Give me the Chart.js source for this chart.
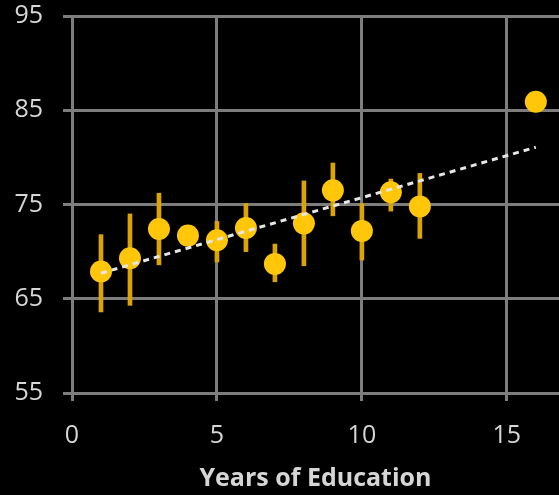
<!DOCTYPE html>
<html>
<head>
<meta charset="utf-8">
<script src="https://cdn.jsdelivr.net/npm/chart.js@4/dist/chart.umd.min.js"></script>
<style>
  html, body { margin: 0; padding: 0; background: #000; }
  canvas { display: block; }
</style>
</head>
<body>
<canvas id="chart" width="559" height="495"></canvas>
<script>
// Years of education (x) and mean score (y) with error ranges
const years  = [1, 2, 3, 4, 5, 6, 7, 8, 9, 10, 11, 12, 16];
const scores = [67.9, 69.3, 72.4, 71.7, 71.2, 72.5, 68.7, 73.0, 76.5, 72.2, 76.3, 74.8, 85.9];
const errLow  = [63.6, 64.3, 68.6, 70.8, 68.9, 70.0, 66.8, 68.5, 73.8, 69.1, 74.3, 71.4, null];
const errHigh = [71.8, 74.0, 76.2, 72.6, 73.2, 75.1, 70.8, 77.5, 79.4, 75.1, 77.7, 78.3, null];
const xTicks = [0, 5, 10, 15];
const yTicks = [55, 65, 75, 85, 95];

// least-squares trend line through the points
function linearFit(xs, ys) {
  const n = xs.length;
  const mx = xs.reduce((a, b) => a + b, 0) / n;
  const my = ys.reduce((a, b) => a + b, 0) / n;
  let sxy = 0, sxx = 0;
  for (let i = 0; i < n; i++) {
    sxy += (xs[i] - mx) * (ys[i] - my);
    sxx += (xs[i] - mx) * (xs[i] - mx);
  }
  const slope = sxy / sxx;
  return { slope, intercept: my - slope * mx };
}
const fit = linearFit(years, scores);
const xFirst = Math.min(...years), xLast = Math.max(...years);
const trendData = [xFirst, xLast].map(x => ({ x, y: fit.intercept + fit.slope * x }));

const pointData = years.map((x, i) => ({ x, y: scores[i] }));
const errorData = years
  .map((x, i) => ({ x, y: [errLow[i], errHigh[i]] }))
  .filter(d => d.y[0] !== null);

const gridColor = '#7d7d7d';
const textColor = '#d6d6d6';
const fontFamily = '"Open Sans", "DejaVu Sans", sans-serif';

new Chart(document.getElementById('chart'), {
  type: 'scatter',
  data: {
    datasets: [
      {
        type: 'line',
        data: trendData,
        borderColor: '#e6e6e6',
        borderWidth: 3,
        borderDash: [6, 5],
        pointRadius: 0,
        fill: false,
        order: 0
      },
      {
        type: 'scatter',
        data: pointData,
        backgroundColor: '#ffc60a',
        borderWidth: 0,
        pointRadius: 11,
        pointHoverRadius: 11,
        order: 1
      },
      {
        type: 'bar',
        data: errorData,
        backgroundColor: '#dba400',
        borderWidth: 0,
        barThickness: 4,
        order: 2
      }
    ]
  },
  options: {
    responsive: false,
    animation: false,
    layout: { autoPadding: false, padding: { top: 16, right: 0, left: 0, bottom: 0 } },
    plugins: {
      legend: { display: false },
      tooltip: { enabled: false }
    },
    scales: {
      x: {
        type: 'linear',
        min: 0,
        max: 16.8,
        offset: false,
        afterFit: s => { s.height = 102; s.paddingLeft = 0; s.paddingRight = 0; },
        afterBuildTicks: s => { s.ticks = xTicks.map(v => ({ value: v })); },
        grid: { color: gridColor, lineWidth: 3, tickLength: 8, offset: false },
        border: { color: gridColor, width: 3 },
        ticks: {
          color: textColor,
          font: { family: fontFamily, size: 25 },
          padding: 20,
          maxRotation: 0
        },
        title: {
          display: true,
          text: 'Years of Education',
          color: textColor,
          font: { family: fontFamily, size: 25, weight: 'bold' },
          padding: { top: 12, bottom: 1 }
        }
      },
      y: {
        type: 'linear',
        min: 55,
        max: 95,
        afterFit: s => { s.width = 72; s.paddingTop = 0; s.paddingBottom = 0; },
        afterBuildTicks: s => { s.ticks = yTicks.map(v => ({ value: v })); },
        grid: { color: gridColor, lineWidth: 3, tickLength: 9 },
        border: { color: gridColor, width: 3 },
        ticks: {
          color: textColor,
          font: { family: fontFamily, size: 25 },
          padding: 20
        }
      }
    }
  }
});
</script>
</body>
</html>
